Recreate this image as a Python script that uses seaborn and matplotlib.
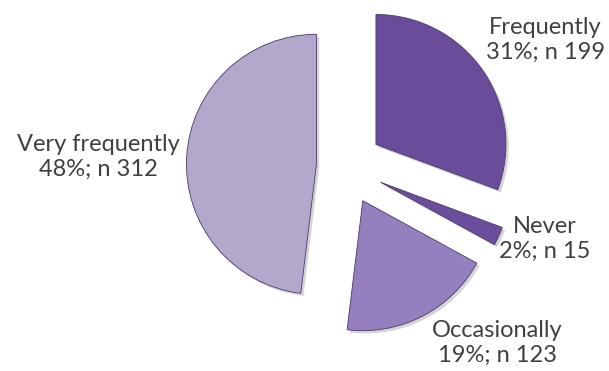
import matplotlib
matplotlib.use("Agg")
import matplotlib.pyplot as plt
import matplotlib.patheffects as pe
import seaborn as sns

# Survey responses
categories = ["Frequently", "Never", "Occasionally", "Very frequently"]
counts = [199, 15, 123, 312]

colors = ["#6a4d9a", "#6b4e9e", "#9580bf", "#b1a8cb"]
explode = [0.29, 0.30, 0.30, 0.22]
label_pos = [(1.54, 0.97), (1.54, -0.56), (1.17, -1.36), (-1.90, 0.07)]

sns.set_theme(style="white")
plt.rcParams["font.family"] = ["Lato", "DejaVu Sans"]

fig = plt.figure(figsize=(6.09, 3.71), dpi=100)
ax = fig.add_axes([0, 0, 1, 1])

total = sum(counts)
wedges, _ = ax.pie(
    counts,
    colors=colors,
    explode=explode,
    startangle=90,
    counterclock=False,
    radius=1.0,
    center=(0, 0),
    wedgeprops=dict(edgecolor="#4a3a6a", linewidth=0.6),
)
for w in wedges:
    w.set_path_effects([
        pe.SimplePatchShadow(offset=(2, -2), shadow_rgbFace="#888888", alpha=0.35),
        pe.Normal(),
    ])

for cat, n, (x, y) in zip(categories, counts, label_pos):
    pct = round(n / total * 100)
    ax.text(x, y, f"{cat}\n{pct}%; n {n}", ha="center", va="center",
            fontsize=17, color="#404040", linespacing=1.25)

ax.set_xlim(-2.654, 2.031)
ax.set_ylim(-1.577, 1.277)
ax.set_aspect("equal")
ax.axis("off")

fig.savefig("out.png", dpi=100)
